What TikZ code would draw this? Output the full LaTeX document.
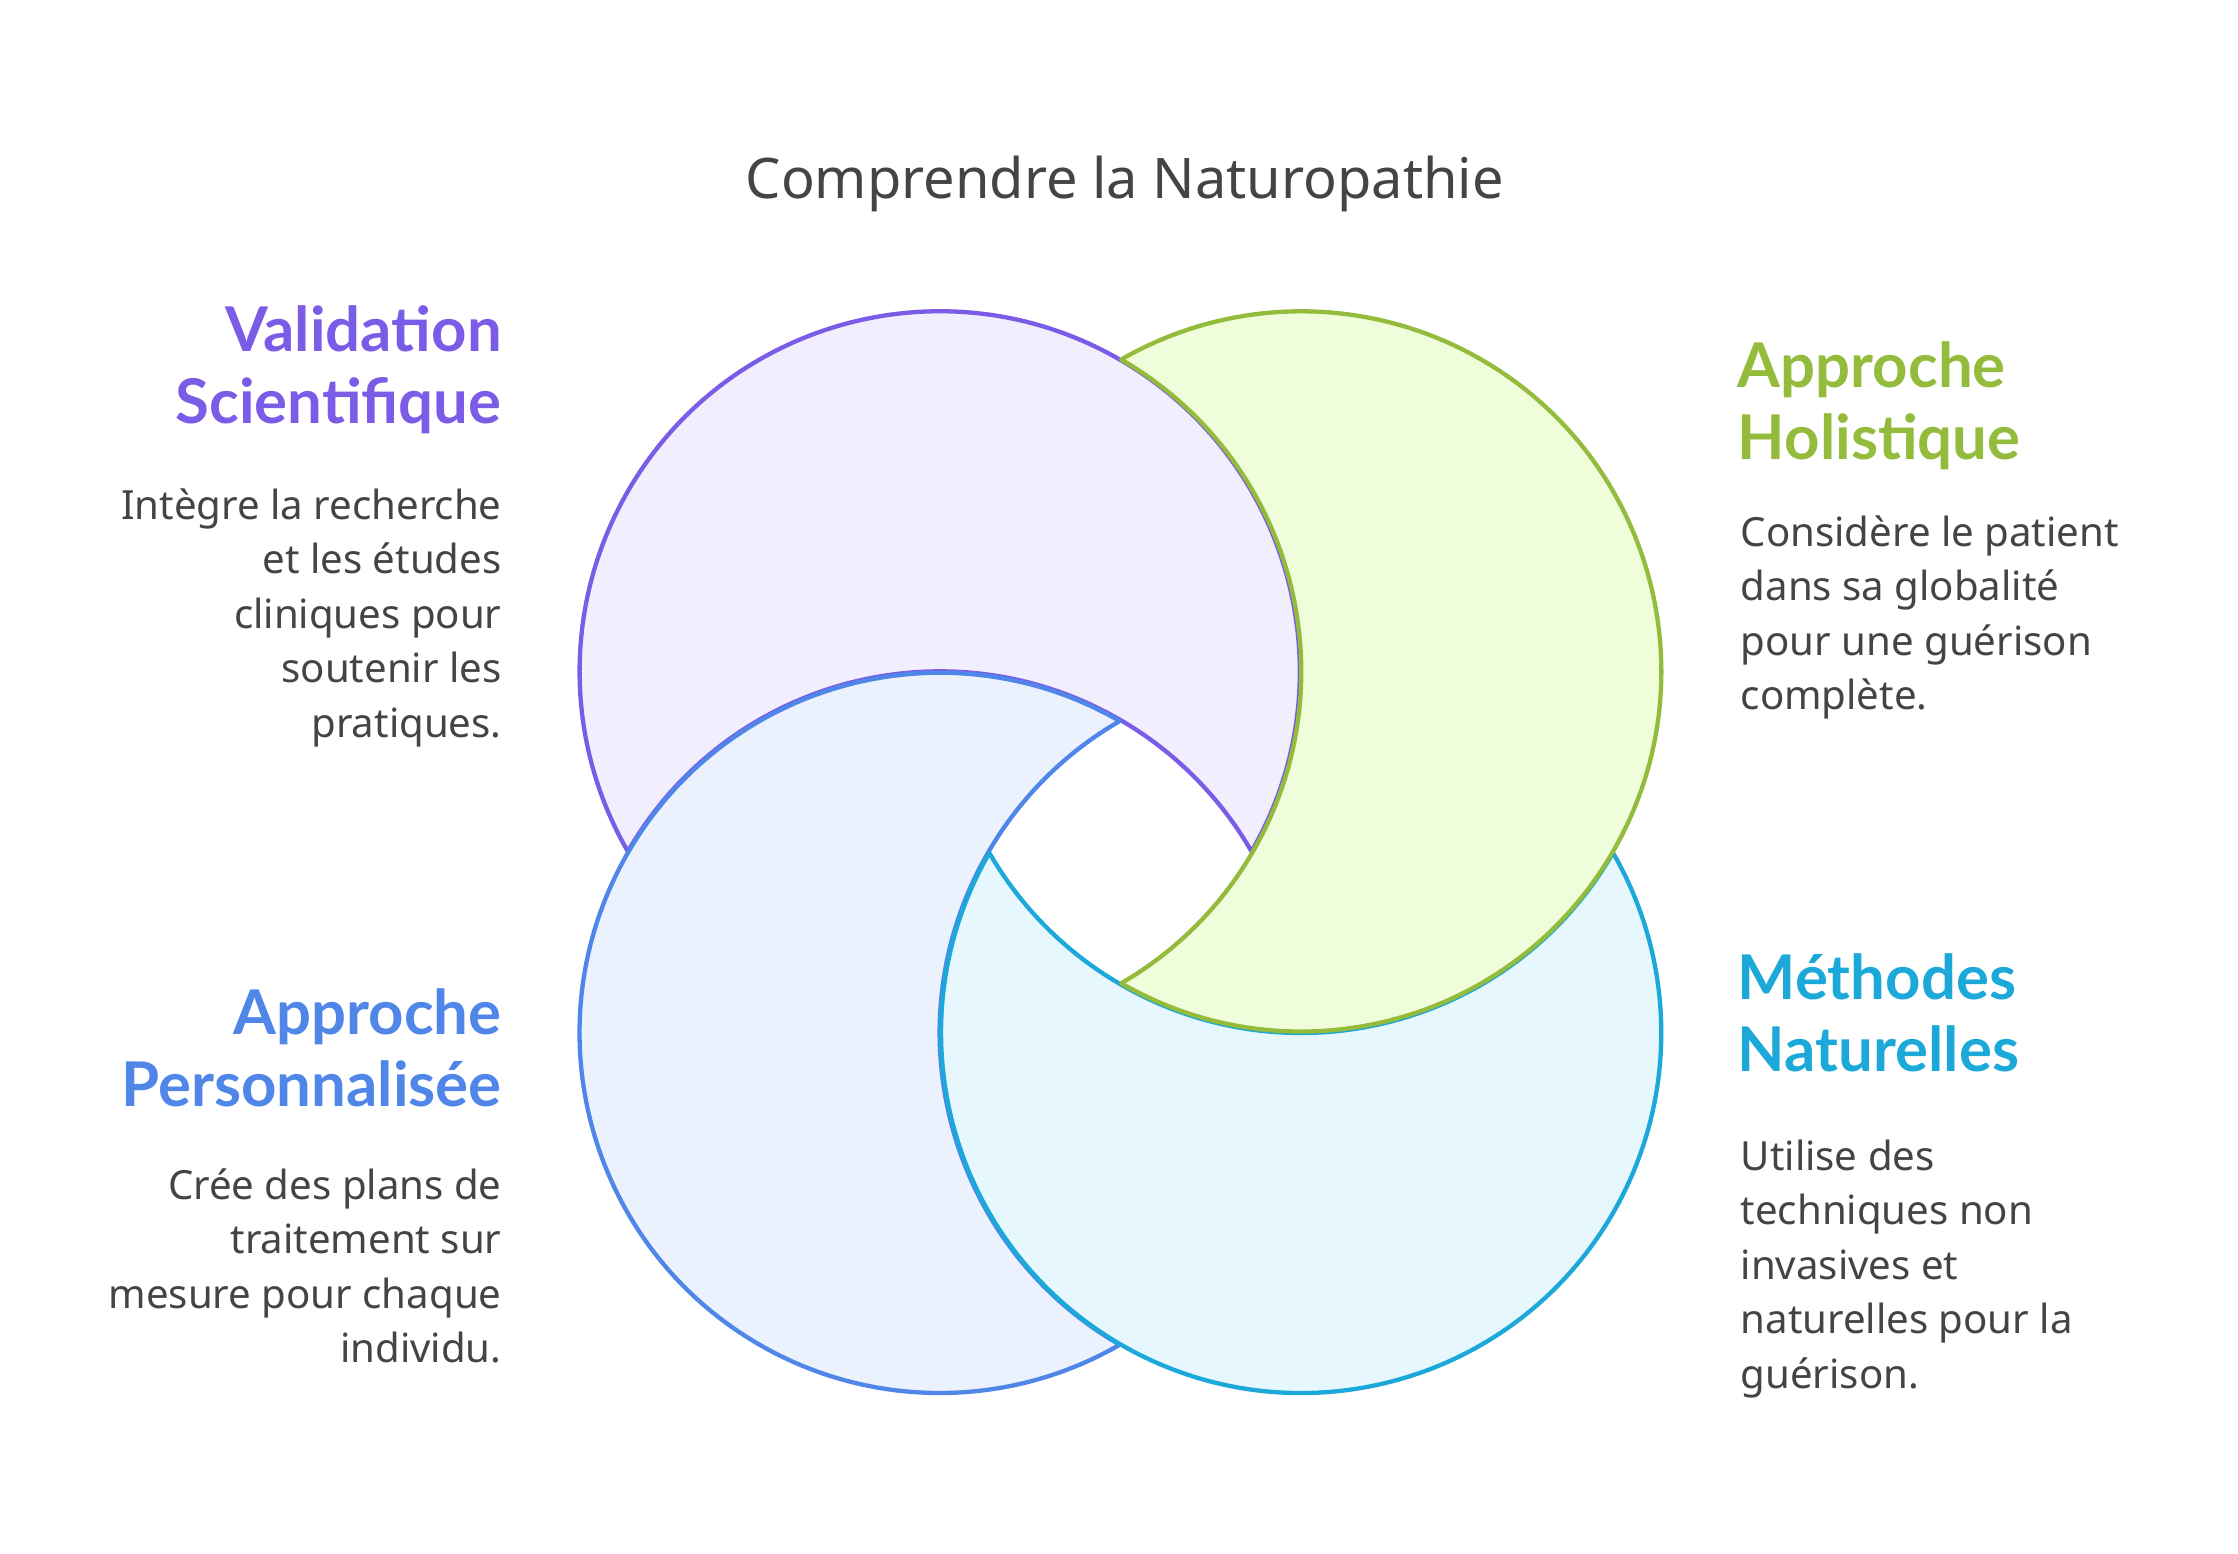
\documentclass[tikz,border=0pt]{standalone}
\usepackage{fontspec}
\setmainfont{Noto Sans}
\newfontfamily\headf{Lato}
\usetikzlibrary{calc}
\definecolor{pur}{HTML}{7B5CE6}\definecolor{purf}{HTML}{F1EFFD}
\definecolor{grn}{HTML}{93BB3C}\definecolor{grnf}{HTML}{F0FDDB}
\definecolor{blu}{HTML}{4F86E8}\definecolor{bluf}{HTML}{EBF2FE}
\definecolor{cya}{HTML}{1CA8D8}\definecolor{cyaf}{HTML}{E6F7FD}
\definecolor{txt}{HTML}{444444}
\newcommand\mycrescent[4]{%
 \pgfmathsetmacro\aA{#2+60}\pgfmathsetmacro\aB{#2+300}%
 \pgfmathsetmacro\aC{#2+240}\pgfmathsetmacro\aD{#2+120}%
 \path[draw=#4,line width=1.5pt,fill=#3,line join=round] ($(#1)+(\aA:125.5pt)$) arc[start angle=\aA,end angle=\aB,radius=125.5pt] arc[start angle=\aC,end angle=\aD,radius=125.5pt] -- cycle;}
\tikzset{head/.style={font=\headf\bfseries\fontsize{21.5}{25}\selectfont,inner sep=0pt},
 body/.style={font=\fontsize{14}{19}\selectfont,text=txt,inner sep=0pt}}
\begin{document}
\begin{tikzpicture}[x=0.5pt,y=0.5pt]
\useasboundingbox (0,0) rectangle (1560,1083);
\coordinate (P) at (655,615);\coordinate (G) at (907,615);
\coordinate (B) at (655,363);\coordinate (C) at (907,363);
\mycrescent{P}{-90}{purf}{pur}
\mycrescent{B}{0}{bluf}{blu}
\mycrescent{C}{90}{cyaf}{cya}
\mycrescent{G}{180}{grnf}{grn}
\node[font=\fontsize{19.5}{24}\selectfont,text=txt] (title) at (784,955) {Comprendre la Naturopathie};
\node[head,text=pur,anchor=base east] (h1) at (350,838) {Validation};
\node[head,text=pur,anchor=base east] (h1b) at (350,788) {Scientifique};
\node[body,anchor=north east,align=right] (b1) at (350,743) {Intègre la recherche\\et les études\\cliniques pour\\soutenir les\\pratiques.};
\node[head,text=grn,anchor=base west] (h2) at (1211,813) {Approche};
\node[head,text=grn,anchor=base west] (h2b) at (1211,763) {Holistique};
\node[body,anchor=north west,align=left] (b2) at (1213,724) {Considère le patient\\dans sa globalité\\pour une guérison\\complète.};
\node[head,text=blu,anchor=base east] (h3) at (350,362) {Approche};
\node[head,text=blu,anchor=base east] (h3b) at (350,312) {Personnalisée};
\node[body,anchor=north east,align=right] (b3) at (350,269) {Crée des plans de\\traitement sur\\mesure pour chaque\\individu.};
\node[head,text=cya,anchor=base west] (h4) at (1211,386) {Méthodes};
\node[head,text=cya,anchor=base west] (h4b) at (1211,336) {Naturelles};
\node[body,anchor=north west,align=left] (b4) at (1213,289) {Utilise des\\techniques non\\invasives et\\naturelles pour la\\guérison.};
\end{tikzpicture}
\end{document}
